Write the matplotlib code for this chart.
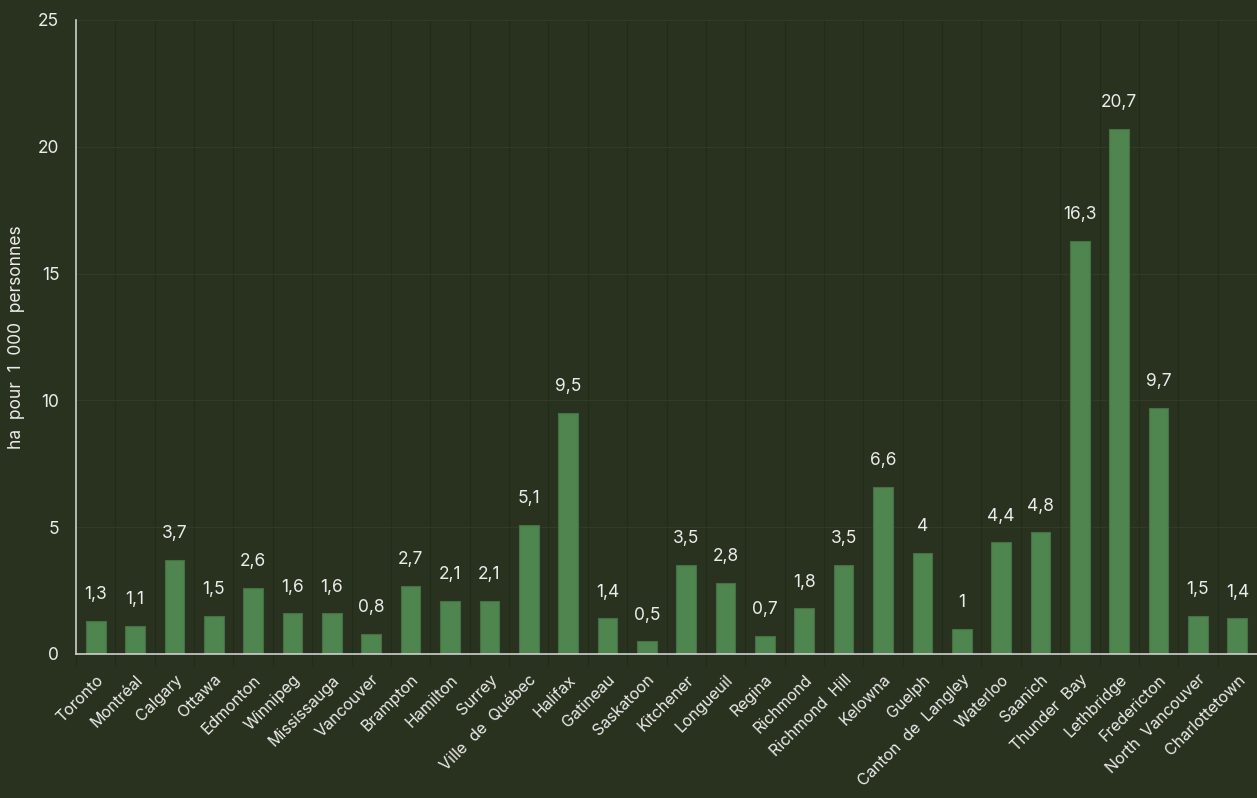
import matplotlib.pyplot as plt
import numpy as np

plt.rcParams['font.family'] = ['Inter', 'DejaVu Sans']

cities = ["Toronto", "Montréal", "Calgary", "Ottawa", "Edmonton", "Winnipeg",
          "Mississauga", "Vancouver", "Brampton", "Hamilton", "Surrey",
          "Ville  de  Québec", "Halifax", "Gatineau", "Saskatoon", "Kitchener",
          "Longueuil", "Regina", "Richmond", "Richmond  Hill", "Kelowna",
          "Guelph", "Canton  de  Langley", "Waterloo", "Saanich", "Thunder  Bay",
          "Lethbridge", "Fredericton", "North  Vancouver", "Charlottetown"]
values = [1.3, 1.1, 3.7, 1.5, 2.6, 1.6, 1.6, 0.8, 2.7, 2.1, 2.1, 5.1, 9.5,
          1.4, 0.5, 3.5, 2.8, 0.7, 1.8, 3.5, 6.6, 4.0, 1.0, 4.4, 4.8, 16.3,
          20.7, 9.7, 1.5, 1.4]

bg = "#29321f"
bar_col = "#4f854f"
txt = "#ececec"

fig = plt.figure(figsize=(12.57, 7.98), dpi=100)
fig.patch.set_facecolor(bg)
ax = fig.add_axes([76 / 1257, 1 - 654 / 798, (1257 - 76) / 1257, (654 - 20) / 798])
ax.set_facecolor(bg)

x = np.arange(len(cities))
bars = ax.bar(x, values, width=0.5, color=bar_col, edgecolor="#466f45", linewidth=0.8, zorder=3)

for xi, v in zip(x, values):
    lab = f"{v:g}".replace(".", ",")
    ax.text(xi, v + 0.7, lab, ha="center", va="bottom", color=txt, fontsize=12.5)

ax.set_xlim(-0.5, len(cities) - 0.5)
ax.set_ylim(0, 25)
ax.set_yticks([0, 5, 10, 15, 20, 25])
ax.set_xticks(x)
ax.set_xticklabels(cities, rotation=45, ha="right", rotation_mode="anchor")
ax.tick_params(axis="x", length=0, pad=13, colors=txt, labelsize=11.5)
ax.tick_params(axis="y", length=0, pad=12, colors=txt, labelsize=12.5)

# faint grid: vertical at category boundaries, horizontal at ticks
for b in np.arange(-0.5, len(cities), 1.0):
    ax.plot([b, b], [-0.45, 25], color="#222a1a", linewidth=0.8, zorder=1, clip_on=False)
for yv in [5, 10, 15, 20, 25]:
    ax.axhline(yv, color="#323b28", linewidth=0.8, zorder=1)

for s in ["top", "right"]:
    ax.spines[s].set_visible(False)
ax.spines["left"].set_color("#cfcfcf")
ax.spines["bottom"].set_color("#cfcfcf")
ax.spines["left"].set_linewidth(1.2)
ax.spines["bottom"].set_linewidth(1.2)
ax.spines["bottom"].set_zorder(4)

ax.set_ylabel("ha  pour  1  000  personnes", color=txt, fontsize=12.5, labelpad=9)

fig.savefig("out.png", dpi=100, facecolor=bg)
